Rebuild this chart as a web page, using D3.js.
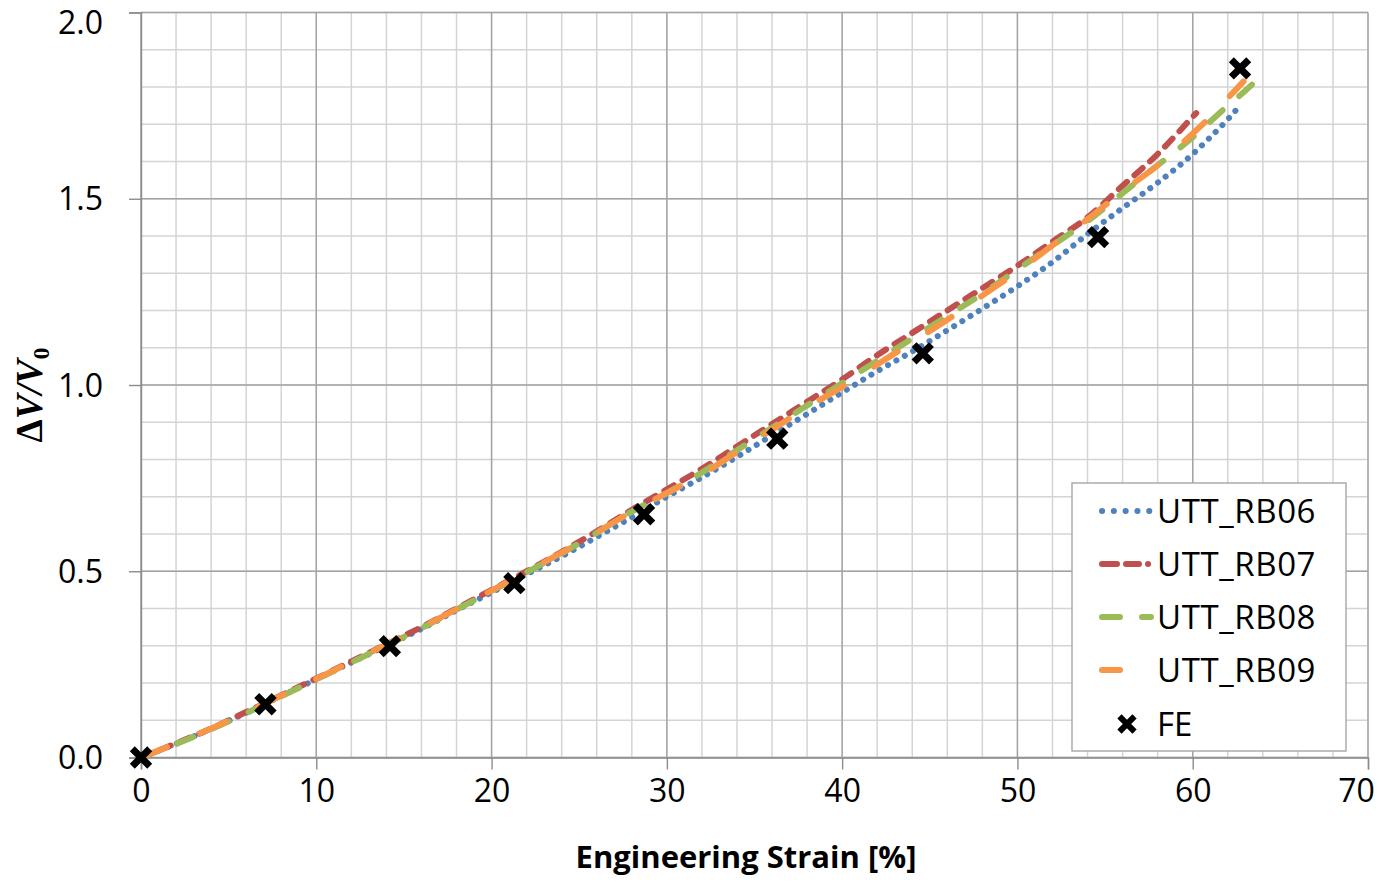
<!DOCTYPE html>
<html>
<head>
<meta charset="utf-8">
<script src="https://cdn.jsdelivr.net/npm/d3@7"></script>
<style>
  html, body { margin: 0; padding: 0; background: #fff; }
  svg { display: block; }
</style>
</head>
<body>
<svg id="chart" width="1379" height="883"></svg>
<script>
// ---- data ----
const xTicks = [0, 10, 20, 30, 40, 50, 60, 70];
const yTicks = [0.0, 0.5, 1.0, 1.5, 2.0];

const strainRB06 = [0, 2, 4, 6, 8, 10, 12, 14, 16, 18, 20, 22, 24, 26, 28, 30, 32, 34, 36, 38, 40, 42, 44, 46, 48, 50, 52, 54, 56, 58, 60, 61, 62, 62.6];
const dvRB06     = [0, 0.037, 0.077, 0.12, 0.165, 0.21, 0.255, 0.30, 0.345, 0.395, 0.443, 0.492, 0.54, 0.592, 0.645, 0.70, 0.752, 0.807, 0.865, 0.922, 0.98, 1.037, 1.09, 1.147, 1.205, 1.265, 1.33, 1.405, 1.475, 1.543, 1.62, 1.665, 1.713, 1.745];

const strainRB07 = [0, 2, 4, 6, 8, 10, 12, 14, 16, 18, 20, 22, 24, 26, 28, 30, 32, 34, 36, 38, 40, 42, 44, 46, 48, 50, 52, 54, 56, 58, 60, 60.2];
const dvRB07     = [0, 0.038, 0.078, 0.122, 0.167, 0.212, 0.258, 0.304, 0.35, 0.4, 0.45, 0.5, 0.552, 0.607, 0.665, 0.72, 0.775, 0.835, 0.895, 0.955, 1.015, 1.08, 1.14, 1.2, 1.26, 1.32, 1.385, 1.45, 1.535, 1.62, 1.72, 1.73];

const strainRB08 = [0, 2, 4, 6, 8, 10, 12, 14, 16, 18, 20, 22, 24, 26, 28, 30, 32, 34, 36, 38, 40, 42, 44, 46, 48, 50, 52, 54, 56, 58, 60, 62, 63, 63.8];
const dvRB08     = [0, 0.036, 0.076, 0.119, 0.164, 0.21, 0.255, 0.301, 0.347, 0.397, 0.447, 0.497, 0.548, 0.603, 0.66, 0.71, 0.765, 0.825, 0.885, 0.945, 1.005, 1.065, 1.125, 1.185, 1.245, 1.31, 1.375, 1.44, 1.515, 1.59, 1.665, 1.75, 1.79, 1.825];

const strainRB09 = [0, 2, 4, 6, 8, 10, 12, 14, 16, 18, 20, 22, 24, 26, 28, 30, 32, 34, 36, 38, 40, 42, 44, 46, 48, 50, 52, 54, 56, 58, 60, 61, 62, 62.9];
const dvRB09     = [0, 0.038, 0.078, 0.121, 0.166, 0.211, 0.257, 0.303, 0.349, 0.398, 0.448, 0.498, 0.55, 0.604, 0.66, 0.71, 0.76, 0.82, 0.88, 0.94, 0.995, 1.055, 1.115, 1.175, 1.24, 1.305, 1.375, 1.445, 1.52, 1.59, 1.675, 1.72, 1.77, 1.815];

const strainFE = [0, 7.1, 14.2, 21.3, 28.7, 36.3, 44.6, 54.6, 62.7];
const dvFE     = [0, 0.143, 0.299, 0.468, 0.653, 0.856, 1.085, 1.397, 1.85];

const seriesNames = ["UTT_RB06", "UTT_RB07", "UTT_RB08", "UTT_RB09"];
const seriesX = [strainRB06, strainRB07, strainRB08, strainRB09];
const seriesY = [dvRB06, dvRB07, dvRB08, dvRB09];

// ---- styles ----
const colors = ["#4F81BD", "#C0504D", "#9BBB59", "#F79646"];
const dashes = ["0.1 9.5", "11 10", "17 22", "28 36"];
const legendDashes = ["0.1 11.7", "15 9 13 9 0.1", "18 22", "18 60"];
const widths = [6, 6, 6, 6];

const svg = d3.select("#chart");
const pL = 141, pR = 1368, pT = 12.5, pB = 757.5;

const x = d3.scaleLinear().domain([0, 70]).range([pL, pR]);
const y = d3.scaleLinear().domain([0, 2]).range([pB, pT]);

// minor grid
const xMinor = d3.range(0, 70.001, 2);
const yMinor = d3.range(0, 2.0001, 0.1);
const g = svg.append("g");
g.selectAll(".vx").data(xMinor).enter().append("line")
  .attr("x1", d => x(d)).attr("x2", d => x(d))
  .attr("y1", pT).attr("y2", pB)
  .attr("stroke", "#d4d4d4").attr("stroke-width", 1.5);
g.selectAll(".hy").data(yMinor).enter().append("line")
  .attr("x1", pL).attr("x2", pR)
  .attr("y1", d => y(d)).attr("y2", d => y(d))
  .attr("stroke", "#d4d4d4").attr("stroke-width", 1.5);

// major grid
g.selectAll(".mx").data(xTicks).enter().append("line")
  .attr("x1", d => x(d)).attr("x2", d => x(d))
  .attr("y1", pT).attr("y2", pB)
  .attr("stroke", "#a3a3a3").attr("stroke-width", 1.4);
g.selectAll(".my").data(yTicks).enter().append("line")
  .attr("x1", pL).attr("x2", pR)
  .attr("y1", d => y(d)).attr("y2", d => y(d))
  .attr("stroke", "#a3a3a3").attr("stroke-width", 1.4);

// axes
const xAxis = d3.axisBottom(x).tickValues(xTicks).tickSize(12).tickPadding(10)
  .tickFormat(d3.format("d"));
const yAxis = d3.axisLeft(y).tickValues(yTicks).tickSize(12).tickPadding(26)
  .tickFormat(d3.format(".1f"));

const gx = svg.append("g").attr("transform", `translate(0,${pB})`).call(xAxis);
const gy = svg.append("g").attr("transform", `translate(${pL},0)`).call(yAxis);
[gx, gy].forEach(a => {
  a.select(".domain").attr("stroke", "#8c8c8c").attr("stroke-width", 1.4);
  a.selectAll(".tick line").attr("stroke", "#8c8c8c").attr("stroke-width", 1.4);
  a.selectAll(".tick text").attr("fill", "#000")
    .style("font-family", "'Open Sans', sans-serif").style("font-size", "32px");
});
gx.selectAll(".tick text").attr("dy", "0.71em");
// Excel-style: keep edge labels inside the canvas
gx.selectAll(".tick text").filter(d => d === 70).attr("dx", -12);
gy.selectAll(".tick text").attr("dy", "0.35em");
gy.selectAll(".tick text").filter(d => d === 2).attr("y", 10);

// lines
const line = d3.line().x(d => x(d[0])).y(d => y(d[1])).curve(d3.curveMonotoneX);
seriesNames.forEach((name, i) => {
  const pts = seriesX[i].map((v, j) => [v, seriesY[i][j]]);
  svg.append("path").datum(pts)
    .attr("d", line)
    .attr("fill", "none")
    .attr("stroke", colors[i])
    .attr("stroke-width", widths[i])
    .attr("stroke-linecap", "round")
    .attr("stroke-dasharray", dashes[i]);
});

// FE markers
const xSym = d3.symbol(d3.symbolX, 200);
svg.append("g").selectAll("path").data(strainFE.map((v, j) => [v, dvFE[j]]))
  .enter().append("path")
  .attr("d", xSym)
  .attr("transform", d => `translate(${x(d[0])},${y(d[1])})`)
  .attr("fill", "none").attr("stroke", "#000").attr("stroke-width", 7);

// axis titles
svg.append("text")
  .attr("x", 746).attr("y", 868)
  .attr("text-anchor", "middle")
  .style("font-family", "'Open Sans', sans-serif").style("font-size", "31px")
  .style("font-weight", "bold")
  .text("Engineering Strain [%]");

const yt = svg.append("text")
  .attr("transform", "translate(42,395) rotate(-90)")
  .attr("text-anchor", "middle")
  .style("font-family", "'Liberation Serif', 'Times New Roman', serif")
  .style("font-size", "37px").style("font-weight", "bold");
yt.append("tspan").text("Δ");
yt.append("tspan").style("font-style", "italic").text("V");
yt.append("tspan").style("font-style", "italic").text("/");
yt.append("tspan").style("font-style", "italic").text("V");
yt.append("tspan").attr("dy", 7).style("font-size", "24px").text("0");

// legend
const lg = svg.append("g");
lg.append("rect").attr("x", 1072).attr("y", 483).attr("width", 274).attr("height", 268)
  .attr("fill", "#fff").attr("stroke", "#a6a6a6").attr("stroke-width", 1.4);
const legY = [511, 564, 617, 670];
seriesNames.forEach((name, i) => {
  lg.append("line").attr("x1", 1102).attr("x2", 1151)
    .attr("y1", legY[i]).attr("y2", legY[i])
    .attr("stroke", colors[i]).attr("stroke-width", widths[i])
    .attr("stroke-linecap", "round")
    .attr("stroke-dasharray", legendDashes[i]);
  lg.append("text").attr("x", 1157).attr("y", legY[i]).attr("dy", "0.36em")
    .style("font-family", "'Open Sans', sans-serif").style("font-size", "33px")
    .style("letter-spacing", "0.6px")
    .text(name);
});
lg.append("path").attr("d", d3.symbol(d3.symbolX, 150))
  .attr("transform", "translate(1127,724)")
  .attr("fill", "none").attr("stroke", "#000").attr("stroke-width", 6);
lg.append("text").attr("x", 1157).attr("y", 724).attr("dy", "0.36em")
  .style("font-family", "'Open Sans', sans-serif").style("font-size", "33px")
  .text("FE");
</script>
</body>
</html>
